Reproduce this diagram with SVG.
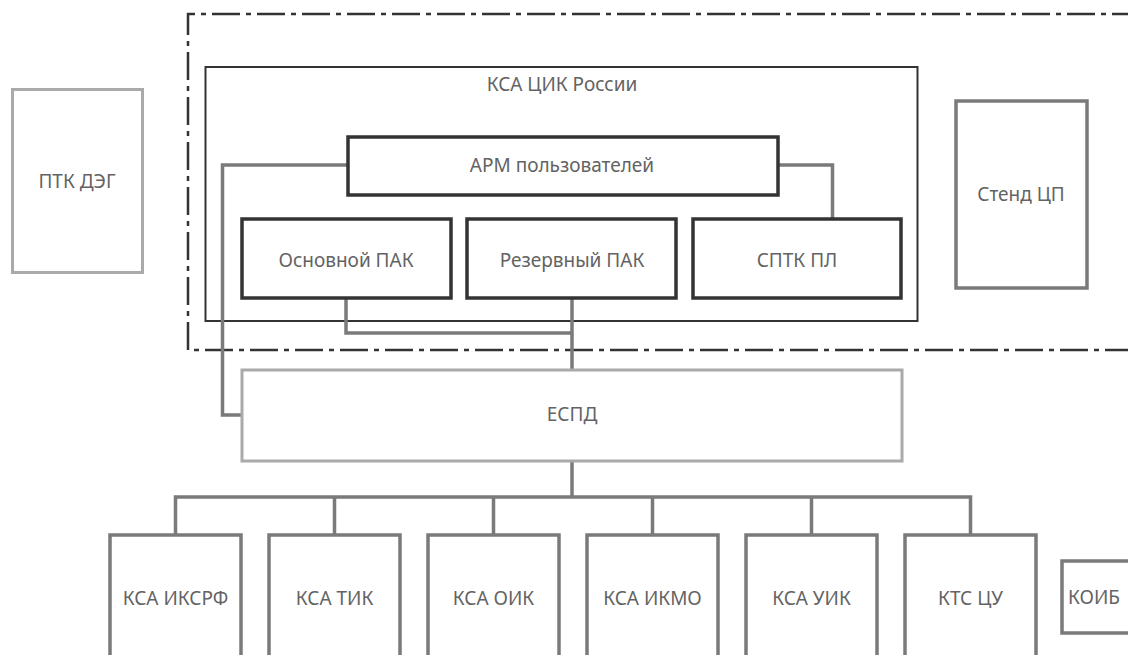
<svg xmlns="http://www.w3.org/2000/svg" width="1128" height="655" viewBox="0 0 1128 655">
<style>
text{font-family:"Noto Sans","Open Sans",sans-serif;font-size:19px;fill:#636363;text-anchor:middle}
.dark{fill:#fff;stroke:#333;stroke-width:3.5}
.light{fill:#fff;stroke:#aaa;stroke-width:3}
.mid{fill:#fff;stroke:#7a7a7a;stroke-width:3.5}
.con{fill:none;stroke:#7a7a7a;stroke-width:3.5}
</style>
<rect width="1128" height="655" fill="#fff"/>
<g id="boundary">
<path d="M1140,14 H188 V350 H1140" fill="none" stroke="#333" stroke-width="2.5" stroke-dasharray="28 6 5 6"/>
</g>
<g id="ksa-cik">
<rect x="205.5" y="67" width="712" height="254" fill="#fff" stroke="#333" stroke-width="2"/>
<text x="562" y="91">КСА ЦИК России</text>
</g>
<g id="connectors">
<path class="con" d="M348,165 H222.5 V415 H242"/>
<path class="con" d="M778,165 H832.5 V219"/>
<path class="con" d="M346,298 V333 H572"/>
<path class="con" d="M572,298 V370"/>
<path class="con" d="M572,461 V497"/>
<path class="con" d="M175.5,535 V497 H970.5 V535"/>
<path class="con" d="M334.5,497 V535 M493.5,497 V535 M652.5,497 V535 M811.5,497 V535"/>
</g>
<g id="ptk-deg">
<rect class="light" x="12.5" y="89.5" width="130" height="183"/>
<text x="77" y="188">ПТК ДЭГ</text>
</g>
<g id="arm">
<rect class="dark" x="348" y="137" width="430" height="58"/>
<text x="562" y="172">АРМ пользователей</text>
</g>
<g id="osn-pak">
<rect class="dark" x="242" y="219" width="209" height="79"/>
<text x="346" y="267">Основной ПАК</text>
</g>
<g id="rez-pak">
<rect class="dark" x="467" y="219" width="209" height="79"/>
<text x="572" y="267">Резервный ПАК</text>
</g>
<g id="sptk">
<rect class="dark" x="693" y="219" width="208" height="79"/>
<text x="797" y="267">СПТК ПЛ</text>
</g>
<g id="stend">
<rect class="mid" x="956" y="101" width="131" height="187"/>
<text x="1021" y="201">Стенд ЦП</text>
</g>
<g id="espd">
<rect class="light" x="242" y="370" width="660" height="91"/>
<text x="572" y="421">ЕСПД</text>
</g>
<g id="iksrf">
<rect class="mid" x="110" y="535" width="131" height="150"/>
<text x="175.5" y="605">КСА ИКСРФ</text>
</g>
<g id="tik">
<rect class="mid" x="269" y="535" width="131" height="150"/>
<text x="334.5" y="605">КСА ТИК</text>
</g>
<g id="oik">
<rect class="mid" x="428" y="535" width="131" height="150"/>
<text x="493.5" y="605">КСА ОИК</text>
</g>
<g id="ikmo">
<rect class="mid" x="587" y="535" width="131" height="150"/>
<text x="652.5" y="605">КСА ИКМО</text>
</g>
<g id="uik">
<rect class="mid" x="746" y="535" width="131" height="150"/>
<text x="811.5" y="605">КСА УИК</text>
</g>
<g id="kts">
<rect class="mid" x="905" y="535" width="131" height="150"/>
<text x="970.5" y="605">КТС ЦУ</text>
</g>
<g id="koib">
<rect class="mid" x="1062" y="561" width="90" height="72"/>
<text x="1094" y="604">КОИБ</text>
</g>
</svg>
